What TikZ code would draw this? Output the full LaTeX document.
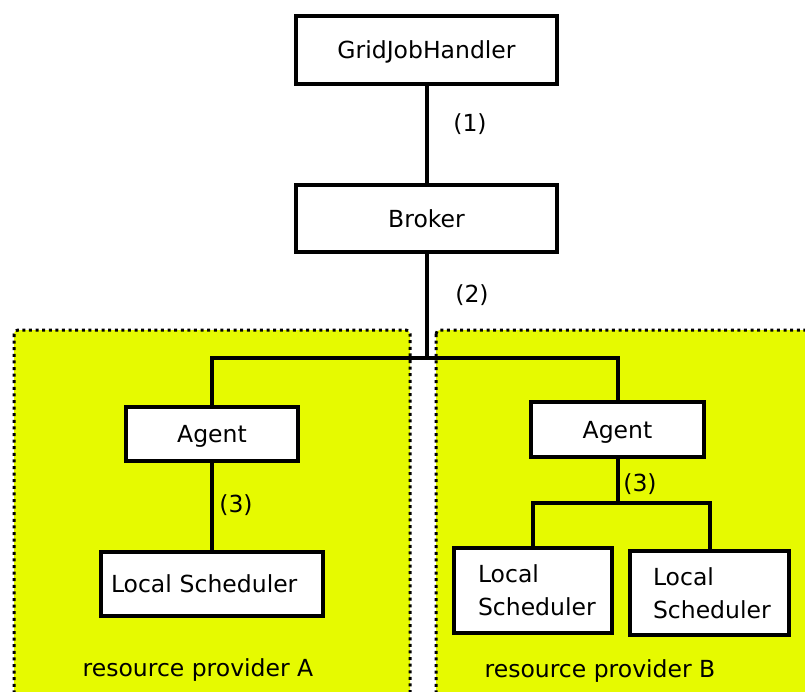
\documentclass[tikz,border=0pt]{standalone}
\usepackage{fontspec}
\setmainfont{DejaVu Sans}
\definecolor{zone}{RGB}{230,250,0}
\begin{document}
\begin{tikzpicture}[x=1pt,y=-1pt,
  every node/.style={font=\fontsize{23.5}{33}\selectfont},
  box/.style={draw=black,line width=4pt,fill=white,inner sep=0pt},
  onebox/.style={box,text depth=0pt},
  link/.style={draw=black,line width=4pt},
  zonebox/.style={fill=zone,draw=black,line width=3pt,dash pattern=on 3pt off 3.6pt,rounded corners=4pt},
  tag/.style={inner sep=0pt}]
\clip (0,0) rectangle (805,692);
\fill[white] (0,0) rectangle (805,692);

% provider areas
\draw[zonebox] (14,330) rectangle (410,720);
\draw[zonebox] (436,330) rectangle (830,720);

% boxes
\node[onebox,minimum width=261pt,minimum height=68pt] (gjh) at (426.5,50) {GridJobHandler};
\node[onebox,minimum width=261pt,minimum height=67pt] (broker) at (426.5,218.5) {Broker};
\node[onebox,minimum width=172pt,minimum height=54pt] (agentA) at (212,434) {Agent};
\node[onebox,minimum height=64pt,text width=202pt,inner xsep=10pt,align=left] (lsA) at (212,584) {Local Scheduler};
\node[onebox,minimum width=173pt,minimum height=55pt] (agentB) at (617.5,429.5) {Agent};
\node[box,minimum height=85pt,text width=110pt,inner xsep=24pt,align=left] (lsB1) at (533,590.5) {Local\\Scheduler};
\node[box,minimum height=84pt,text width=113pt,inner xsep=23pt,align=left] (lsB2) at (709.5,593) {Local\\Scheduler};

% junctions
\coordinate (jTop) at (426.5,358);
\coordinate (jB) at (617.5,503);

% connectors
\draw[link] (gjh.south) -- (broker.north);
\draw[link] (broker.south) -- (jTop);
\draw[link] (agentA.north) |- (jTop) -| (agentB.north);
\draw[link] (agentA.south) -- (lsA.north);
\draw[link] (agentB.south) -- (jB);
\draw[link] (lsB1.north) |- (jB) -| (lsB2.north);

% step labels
\node[tag] (l1) at (470,124) {(1)};
\node[tag] (l2) at (472,295) {(2)};
\node[tag] (l3a) at (236,505) {(3)};
\node[tag] (l3b) at (640,484) {(3)};

% area captions
\node[tag,text depth=0pt] (capA) at (198,668) {resource provider A};
\node[tag,text depth=0pt] (capB) at (600,669) {resource provider B};
\end{tikzpicture}
\end{document}
